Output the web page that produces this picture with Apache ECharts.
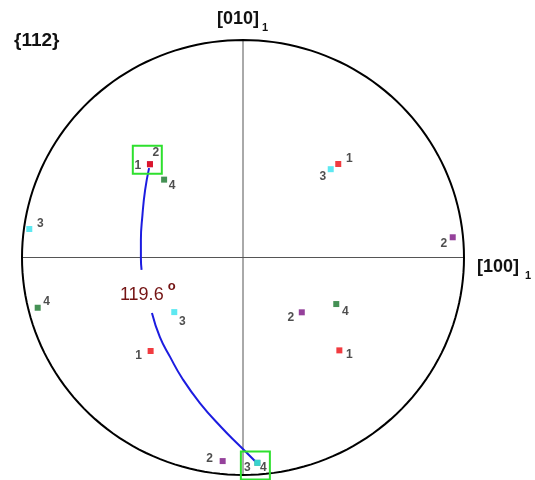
<!DOCTYPE html>
<html>
<head>
<meta charset="utf-8">
<script src="https://cdn.jsdelivr.net/npm/echarts@6/dist/echarts.min.js"></script>
<style>html,body{margin:0;padding:0;background:#fff;}#c{width:535px;height:480px;}</style>
</head>
<body>
<div id="c"></div>
<script>
// Pole figure {112}: normalized projected coordinates (unit circle)
const variant1 = [[-0.421, 0.429], [0.431, 0.430], [-0.418, -0.430], [0.436, -0.427]];   // red "1"
const variant2 = [[-0.421, 0.429], [0.949, 0.093], [0.266, -0.252], [-0.092, -0.936]];   // purple "2"
const variant3 = [[-0.967, 0.131], [0.397, 0.406], [-0.311, -0.251], [0.065, -0.944]];   // cyan "3"
const variant4 = [[-0.357, 0.358], [-0.929, -0.231], [0.422, -0.214], [0.065, -0.944]];  // green "4"
const variantNames = ['1', '2', '3', '4'];
// trace of the great-circle arc between the two highlighted poles (two visible parts)
const arcPart1 = [[-0.425, 0.411], [-0.443, 0.310], [-0.455, 0.195], [-0.462, 0.080], [-0.462, -0.002], [-0.459, -0.057]];
const arcPart2 = [[-0.412, -0.255], [-0.376, -0.366], [-0.330, -0.457], [-0.276, -0.554], [-0.195, -0.669], [-0.095, -0.784], [-0.014, -0.867], [0.054, -0.936]];
const highlightBoxes = [[-0.433, 0.449], [0.056, -0.956]];
const angleText = '119.6';
const anglePos = [-0.458, -0.172];
const degreePos = [-0.323, -0.131];
const figureTitle = '{112}';
const axisY = '[010]';
const axisX = '[100]';

// label offsets (pixels) for each pole, style only
const labelOffsets = {
  '1': [[-12, 1], [11, -5], [-12, 5], [10, 4]],
  '2': [[6, -12], [-9, 6], [-11, 5], [-13, -2]],
  '3': [[11, -5], [-8, 7], [8, 10], [-10, 5]],
  '4': [[8, 6], [9, -6], [9, 8], [6, 5]]
};
const colors = { '1': '#ee0a10', '2': '#7a1282', '3': '#36e2ee', '4': '#16762a' };
const FONT = 'Arial, "Liberation Sans", sans-serif';

function poleSeries(name, data) {
  return {
    type: 'scatter',
    name: name,
    symbol: 'rect',
    symbolSize: 6,
    itemStyle: { color: colors[name] },
    z: 5,
    data: data.map((p, i) => ({
      value: p,
      label: {
        show: true,
        position: 'inside',
        offset: labelOffsets[name][i],
        formatter: name,
        color: '#222',
        fontSize: 12,
        fontWeight: 'bold',
        fontFamily: FONT
      }
    }))
  };
}

const chart = echarts.init(document.getElementById('c'), null, { renderer: 'canvas' });
chart.setOption({
  animation: false,
  backgroundColor: '#fff',
  grid: { left: 22, right: 71, top: 40, bottom: 5 },
  xAxis: { type: 'value', min: -1, max: 1, show: false },
  yAxis: { type: 'value', min: -1, max: 1, show: false },
  graphic: [
    { type: 'text', left: 14, top: 31, style: { text: figureTitle, font: 'bold 19px ' + FONT, fill: '#111' } },
    { type: 'text', x: 238, y: 19, style: { text: axisY, font: 'bold 18px ' + FONT, fill: '#111', align: 'center', verticalAlign: 'middle' } },
    { type: 'text', x: 265, y: 28, style: { text: '1', font: 'bold 11px ' + FONT, fill: '#111', align: 'center', verticalAlign: 'middle' } },
    { type: 'text', x: 477, y: 267, style: { text: axisX, font: 'bold 18px ' + FONT, fill: '#111', align: 'left', verticalAlign: 'middle' } },
    { type: 'text', x: 528, y: 276, style: { text: '1', font: 'bold 11px ' + FONT, fill: '#111', align: 'center', verticalAlign: 'middle' } }
  ],
  series: [
    {
      type: 'custom',
      name: 'frame',
      z: 1,
      silent: true,
      data: [[0, 0]],
      renderItem: function (params, api) {
        const pts = [];
        for (let i = 0; i <= 360; i += 2) {
          const t = i * Math.PI / 180;
          pts.push(api.coord([Math.cos(t), Math.sin(t)]));
        }
        const l = api.coord([-1, 0]), r = api.coord([1, 0]), t = api.coord([0, 1]), b = api.coord([0, -1]);
        return {
          type: 'group',
          children: [
            { type: 'line', shape: { x1: l[0], y1: l[1], x2: r[0], y2: r[1] }, style: { stroke: '#555', lineWidth: 1 } },
            { type: 'line', shape: { x1: t[0], y1: t[1], x2: b[0], y2: b[1] }, style: { stroke: '#555', lineWidth: 1 } },
            { type: 'polygon', shape: { points: pts }, style: { fill: 'none', stroke: '#000', lineWidth: 2 } }
          ]
        };
      }
    },
    {
      type: 'line', name: 'arc1', data: arcPart1, smooth: true, symbol: 'none', z: 3,
      lineStyle: { color: '#1c1ce0', width: 2 }
    },
    {
      type: 'line', name: 'arc2', data: arcPart2, smooth: true, symbol: 'none', z: 3,
      lineStyle: { color: '#1c1ce0', width: 2 }
    },
    poleSeries('2', variant2),
    poleSeries('4', variant4),
    poleSeries('1', variant1),
    poleSeries('3', variant3),
    {
      type: 'custom',
      name: 'boxes',
      z: 6,
      silent: true,
      data: highlightBoxes,
      renderItem: function (params, api) {
        const c = api.coord([api.value(0), api.value(1)]);
        return { type: 'rect', shape: { x: c[0] - 14.5, y: c[1] - 14, width: 29, height: 28 }, style: { fill: 'none', stroke: '#2ee02e', lineWidth: 2 } };
      }
    },
    {
      type: 'custom',
      name: 'angle',
      z: 6,
      silent: true,
      data: [anglePos.concat(degreePos)],
      renderItem: function (params, api) {
        const a = api.coord([api.value(0), api.value(1)]);
        const d = api.coord([api.value(2), api.value(3)]);
        return {
          type: 'group',
          children: [
            { type: 'text', x: a[0], y: a[1], style: { text: angleText, font: '500 18px ' + FONT, fill: '#741414', align: 'center', verticalAlign: 'middle' } },
            { type: 'text', x: d[0], y: d[1], style: { text: 'o', font: 'bold 13px ' + FONT, fill: '#741414', align: 'center', verticalAlign: 'middle' } }
          ]
        };
      }
    }
  ]
});
</script>
</body>
</html>
